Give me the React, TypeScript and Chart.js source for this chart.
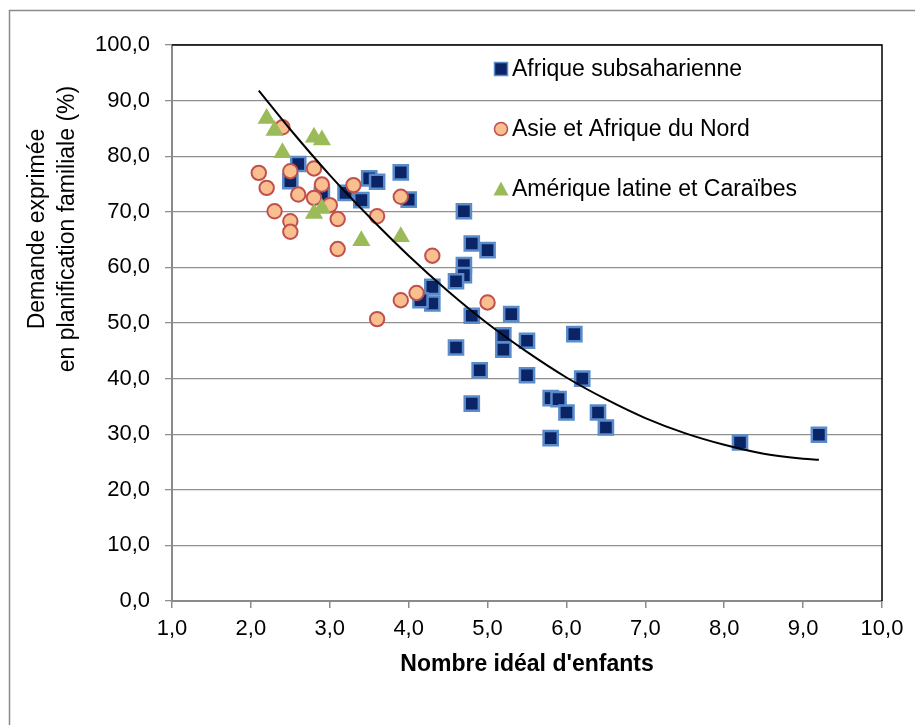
import { useEffect, useRef } from 'react';
import { Chart, registerables } from 'chart.js';

Chart.register(...registerables);

// ---- Data ----
const SSA_X = [2.6, 2.5, 2.9, 3.2, 3.4, 3.5, 3.6, 3.9, 4.0, 4.7, 4.8, 5.0, 4.7, 4.7, 4.6, 4.3, 4.3, 4.15, 4.8, 5.3, 5.2, 5.2, 5.5, 6.1, 4.6, 4.9, 5.5, 6.2, 4.8, 5.8, 5.9, 6.0, 6.4, 6.5, 5.8, 8.2, 9.2];
const SSA_Y = [78.6, 75.5, 73.1, 73.4, 72.1, 76.0, 75.4, 77.1, 72.2, 70.1, 64.3, 63.1, 60.4, 58.6, 57.5, 56.5, 53.5, 54.1, 51.3, 51.6, 47.8, 45.2, 46.8, 48.0, 45.6, 41.5, 40.6, 40.0, 35.5, 36.5, 36.3, 33.9, 33.9, 31.2, 29.3, 28.5, 29.9];

const ANA_X = [2.4, 2.1, 2.2, 2.5, 2.8, 2.9, 2.6, 2.8, 3.0, 3.1, 2.3, 2.5, 2.5, 3.3, 3.9, 3.6, 3.1, 4.3, 4.1, 3.9, 3.6, 5.0];
const ANA_Y = [85.2, 77.0, 74.3, 77.3, 77.8, 74.9, 73.1, 72.5, 71.2, 68.7, 70.1, 68.3, 66.4, 74.8, 72.7, 69.2, 63.3, 62.1, 55.4, 54.1, 50.7, 53.7];

const LAC_X = [2.2, 2.3, 2.4, 2.8, 2.9, 2.8, 2.9, 3.4, 3.9];
const LAC_Y = [86.8, 84.6, 80.6, 83.4, 82.9, 69.7, 70.6, 64.8, 65.5];

// Trend curve at regular x positions
const TREND_X = [2.1, 2.5, 3.0, 3.5, 4.0, 4.5, 5.0, 5.5, 6.0, 6.5, 7.0, 7.5, 8.0, 8.5, 9.0, 9.2];
const TREND_Y = [91.8, 84.8, 76.6, 69.1, 62.1, 55.7, 49.9, 44.8, 40.2, 36.3, 32.9, 30.2, 28.1, 26.5, 25.6, 25.4];

const SERIES_NAMES = ['Afrique subsaharienne', 'Asie et Afrique du Nord', 'Amérique latine et Caraïbes'];
const X_TITLE = "Nombre idéal d'enfants";
const Y_TITLE_LINES = ['Demande exprimée', 'en planification familiale (%)'];
const X_MIN = 1, X_MAX = 10, X_STEP = 1;
const Y_MIN = 0, Y_MAX = 100, Y_STEP = 10;

const FONT = "'Liberation Sans', Arial, Helvetica, sans-serif";

const toPoints = (xs: number[], ys: number[]) => xs.map((x, i) => ({ x, y: ys[i] }));
const fmt = (v: number) => v.toFixed(1).replace('.', ',');

export default function App() {
  const ref = useRef<HTMLCanvasElement | null>(null);

  useEffect(() => {
    document.body.style.margin = '0';
    const canvas = ref.current;
    if (!canvas) return;

    const decor = {
      id: 'decor',
      beforeDraw(chart: any) {
        const ctx = chart.ctx;
        ctx.save();
        ctx.fillStyle = '#ffffff';
        ctx.fillRect(0, 0, chart.width, chart.height);
        ctx.strokeStyle = '#8a8a8a';
        ctx.lineWidth = 1.5;
        ctx.beginPath();
        ctx.moveTo(9.5, chart.height + 5);
        ctx.lineTo(9.5, 10.5);
        ctx.lineTo(chart.width + 5, 10.5);
        ctx.stroke();
        ctx.restore();
      },
      afterDraw(chart: any) {
        const ctx = chart.ctx;
        const area = chart.chartArea;
        ctx.save();
        // top & right borders of plot area
        ctx.strokeStyle = '#000000';
        ctx.lineWidth = 1.5;
        ctx.beginPath();
        ctx.moveTo(area.left, area.top);
        ctx.lineTo(area.right, area.top);
        ctx.lineTo(area.right, area.bottom);
        ctx.stroke();

        // axis titles
        ctx.fillStyle = '#000000';
        ctx.textAlign = 'center';
        ctx.textBaseline = 'middle';
        ctx.font = `bold 23px ${FONT}`;
        ctx.fillText(X_TITLE, (area.left + area.right) / 2, 665);
        ctx.font = `23px ${FONT}`;
        const lineX = [38, 68];
        Y_TITLE_LINES.forEach((t, i) => {
          ctx.save();
          ctx.translate(lineX[i], 229);
          ctx.rotate(-Math.PI / 2);
          ctx.fillText(t, 0, 0);
          ctx.restore();
        });

        // legend
        const lx = 501;
        const ly = [69, 129, 189];
        ctx.fillStyle = '#0a2466';
        ctx.strokeStyle = '#5a8ccc';
        ctx.lineWidth = 1.5;
        ctx.fillRect(lx - 6.5, ly[0] - 6.5, 13, 13);
        ctx.strokeRect(lx - 6.5, ly[0] - 6.5, 13, 13);
        ctx.beginPath();
        ctx.arc(lx, ly[1], 6.5, 0, Math.PI * 2);
        ctx.fillStyle = '#f9bf8f';
        ctx.fill();
        ctx.strokeStyle = '#c0504d';
        ctx.lineWidth = 1.5;
        ctx.stroke();
        ctx.beginPath();
        ctx.moveTo(lx, ly[2] - 7.5);
        ctx.lineTo(lx + 7.5, ly[2] + 6.5);
        ctx.lineTo(lx - 7.5, ly[2] + 6.5);
        ctx.closePath();
        ctx.fillStyle = '#9bbb59';
        ctx.fill();

        ctx.fillStyle = '#000000';
        ctx.textAlign = 'left';
        ctx.textBaseline = 'middle';
        ctx.font = `23px ${FONT}`;
        SERIES_NAMES.forEach((n, i) => ctx.fillText(n, lx + 11, ly[i] + 1));
        ctx.restore();
      },
    };

    const chart = new Chart(canvas, {
      type: 'scatter',
      data: {
        datasets: [
          {
            label: 'Tendance',
            data: toPoints(TREND_X, TREND_Y),
            showLine: true,
            cubicInterpolationMode: 'monotone',
            borderColor: '#000000',
            borderWidth: 2,
            pointRadius: 0,
            fill: false,
            order: 0,
          } as any,
          {
            label: SERIES_NAMES[2],
            data: toPoints(LAC_X, LAC_Y),
            pointStyle: 'triangle',
            pointRadius: 10.5,
            backgroundColor: '#9bbb59',
            borderColor: '#9bbb59',
            borderWidth: 0,
            order: 1,
          },
          {
            label: SERIES_NAMES[1],
            data: toPoints(ANA_X, ANA_Y),
            pointStyle: 'circle',
            pointRadius: 7.2,
            backgroundColor: '#f9bf8f',
            borderColor: '#c0504d',
            borderWidth: 2,
            order: 2,
          },
          {
            label: SERIES_NAMES[0],
            data: toPoints(SSA_X, SSA_Y),
            pointStyle: 'rect',
            pointRadius: 10,
            backgroundColor: '#0a2466',
            borderColor: '#5a8ccc',
            borderWidth: 2.5,
            order: 3,
          },
        ],
      },
      options: {
        responsive: false,
        animation: false,
        devicePixelRatio: 1,
        layout: { padding: { left: 0, right: 33, top: 45, bottom: 0 } },
        plugins: {
          legend: { display: false },
          tooltip: { enabled: false },
        },
        scales: {
          x: {
            type: 'linear',
            min: X_MIN,
            max: X_MAX,
            ticks: {
              stepSize: X_STEP,
              callback: (v: any) => fmt(Number(v)),
              color: '#000000',
              font: { family: FONT, size: 22 },
              padding: 8,
              maxRotation: 0,
            },
            grid: {
              display: true,
              drawOnChartArea: false,
              drawTicks: true,
              tickLength: 7,
              color: '#8a8a8a',
              lineWidth: 1.5,
            },
            border: { display: true, color: '#8a8a8a', width: 2 },
            afterFit: (s: any) => { s.height = 124; },
          },
          y: {
            type: 'linear',
            min: Y_MIN,
            max: Y_MAX,
            ticks: {
              stepSize: Y_STEP,
              callback: (v: any) => fmt(Number(v)),
              color: '#000000',
              font: { family: FONT, size: 22 },
              padding: 15,
            },
            grid: {
              display: true,
              drawOnChartArea: true,
              drawTicks: true,
              tickLength: 7,
              color: '#909090',
              lineWidth: 1.3,
            },
            border: { display: true, color: '#8a8a8a', width: 2 },
            afterFit: (s: any) => { s.width = 172; },
          },
        },
      },
      plugins: [decor],
    } as any);

    return () => chart.destroy();
  }, []);

  return (
    <div style={{ position: 'absolute', left: 0, top: 0, width: 915, height: 725 }}>
      <canvas ref={ref} width={915} height={725} style={{ display: 'block', width: 915, height: 725 }} />
    </div>
  );
}
